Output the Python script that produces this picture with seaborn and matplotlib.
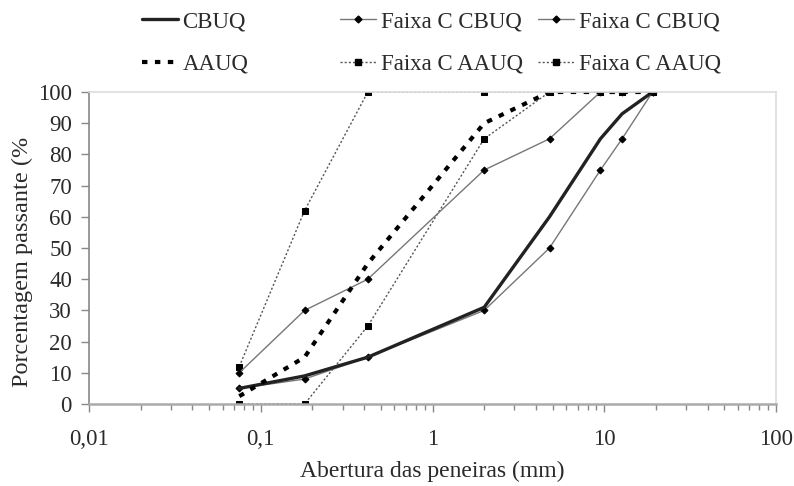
import matplotlib
matplotlib.use("Agg")
import matplotlib.pyplot as plt
import matplotlib.ticker as mticker
import seaborn as sns
import pandas as pd
from matplotlib.lines import Line2D

# ---- data ----
sieves = [0.075, 0.18, 0.42, 2.0, 4.8, 9.5, 12.7, 19.1]
cbuq = [5, 9, 15, 31, 60, 85, 93, 100]
aauq = [2.5, 15, 45, 90, 100, 100, 100, 100]
faixa_cbuq_sup = [10, 30, 40, 75, 85, 100, 100, 100]
faixa_cbuq_inf = [5, 8, 15, 30, 50, 75, 85, 100]
faixa_aauq_sup = [12, 62, 100, 100, 100, 100, 100, 100]
faixa_aauq_inf = [0, 0, 25, 85, 100, 100, 100, 100]
x_ticks = [0.01, 0.1, 1, 10, 100]
x_tick_labels = ["0,01", "0,1", "1", "10", "100"]
y_ticks = [0, 10, 20, 30, 40, 50, 60, 70, 80, 90, 100]

sns.set_theme(style="white")
plt.rcParams["font.family"] = ["Liberation Serif", "DejaVu Serif"]
plt.rcParams["font.size"] = 16.5

FS = 16.5
TXT = "#2a2a2a"

fig = plt.figure(figsize=(7.94, 4.86), dpi=100)
ax = fig.add_axes([89/794, 1-404/486, (776-89)/794, (404-92)/486])

def draw(y, **kw):
    df = pd.DataFrame({"x": sieves, "y": y})
    sns.lineplot(data=df, x="x", y="y", ax=ax, estimator=None, sort=False, **kw)

fc_cbuq = dict(color="#777777", lw=1.0, marker="D", markersize=3.5,
               markerfacecolor="black", markeredgecolor="black")
fc_aauq = dict(color="#555555", lw=1.0, linestyle=(0, (1.5, 1.5)), marker="s",
               markersize=5, markerfacecolor="black", markeredgecolor="black")
cb = dict(color="#222222", lw=2.4)
aa = dict(color="black", lw=3.0, linestyle=(0, (1.3, 1.8)))

draw(faixa_aauq_sup, **fc_aauq)
draw(faixa_aauq_inf, **fc_aauq)
draw(faixa_cbuq_sup, **fc_cbuq)
draw(faixa_cbuq_inf, **fc_cbuq)
draw(cbuq, **cb)
draw(aauq, **aa)

ax.set_xscale("log")
ax.set_xlim(0.01, 100)
ax.set_ylim(0, 100)
ax.xaxis.set_major_locator(mticker.FixedLocator(x_ticks))
ax.xaxis.set_major_formatter(mticker.FixedFormatter(x_tick_labels))
ax.xaxis.set_minor_locator(mticker.LogLocator(base=10, subs=range(2, 10), numticks=20))
ax.xaxis.set_minor_formatter(mticker.NullFormatter())
ax.set_yticks(y_ticks)

for s in ["top", "right"]:
    ax.spines[s].set_color("#dddddd")
    ax.spines[s].set_linewidth(1.2)
ax.spines["left"].set_color("#888888")
ax.spines["left"].set_linewidth(1.2)
ax.spines["bottom"].set_color("#aaaaaa")
ax.spines["bottom"].set_linewidth(1.8)

ax.tick_params(axis="y", which="major", direction="out", length=5.8, width=1,
               color="#888888", pad=6.5, labelsize=FS, labelcolor=TXT, left=True)
ax.tick_params(axis="x", which="major", direction="out", length=5.8, width=1,
               color="#888888", pad=12.5, labelsize=FS, labelcolor=TXT, bottom=True)
ax.tick_params(axis="x", which="minor", direction="out", length=4.5, width=1,
               color="#888888", bottom=True)
ax.set_xlabel("")
ax.set_ylabel("")
ax.grid(False)

fig.text(432/794, 1-471/486, "Abertura das peneiras (mm)", ha="center", va="center",
         fontsize=17, color=TXT)
fig.text(22/794, 1-262/486, "Porcentagem passante (%", ha="center", va="center",
         rotation=90, fontsize=17.5, color=TXT)

# legend (three columns)
def h(**kw):
    return Line2D([], [], **kw)

cols = [
    (142/794, [h(**cb), h(**aa)], ["CBUQ", "AAUQ"]),
    (340/794, [h(**fc_cbuq), h(**fc_aauq)], ["Faixa C CBUQ", "Faixa C AAUQ"]),
    (538/794, [h(**fc_cbuq), h(**fc_aauq)], ["Faixa C CBUQ", "Faixa C AAUQ"]),
]
for xpos, hs, labs in cols:
    fig.legend(hs, labs, loc="upper left", bbox_to_anchor=(xpos, 1 - 11/486),
               frameon=False, fontsize=FS, handlelength=1.55, handletextpad=0.22,
               labelspacing=0.95, borderaxespad=0.0, borderpad=0.0,
               labelcolor=TXT)

fig.savefig("out.png", dpi=100)
